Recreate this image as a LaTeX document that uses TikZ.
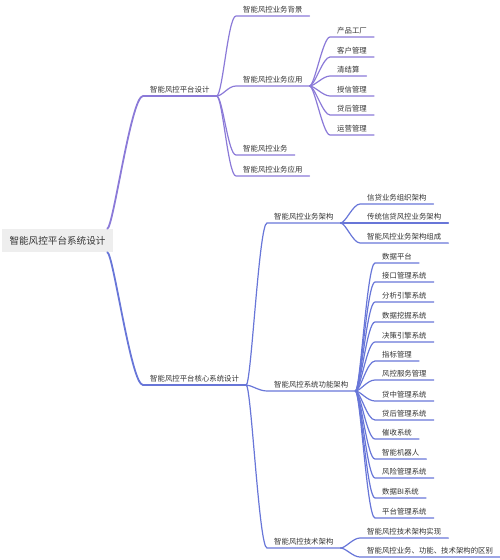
\documentclass[tikz,border=0pt]{standalone}
\usepackage{fontspec}
\setmainfont{Noto Sans CJK SC}
\usepackage{tikz}
\usetikzlibrary{calc}
\definecolor{lilaMM}{RGB}{139,122,216}
\definecolor{azulMM}{RGB}{104,118,216}
\definecolor{textoMM}{RGB}{51,51,51}
\definecolor{grisRaiz}{RGB}{238,238,238}

\begin{document}
\begin{tikzpicture}[
  x=1pt, y=-1pt,
  every node/.style = {font=\fontsize{7.4}{9}\selectfont, text=textoMM},
  hoja/.style  = {anchor=south west, inner xsep=7pt, inner ysep=3pt},
  raiz/.style  = {rectangle, fill=grisRaiz, minimum width=111pt,
                  minimum height=23pt, font=\fontsize{9.6}{11}\selectfont},
  rama/.style  = {line width=1.2pt, line cap=round},
  ramaG/.style = {line width=1.8pt, line cap=round},
]
\useasboundingbox (0,0) rectangle (500,560);
% ── Nodos ────────────────────────────────────────────────────
\node[raiz] (raiz) at (57.5,240.5) {智能风控平台系统设计};
\node[hoja] (P1) at (143,96)  {智能风控平台设计};
\node[hoja] (P2) at (143,385) {智能风控平台核心系统设计};

\node[hoja] (A1) at (236,16)  {智能风控业务背景};
\node[hoja] (A2) at (236,86)  {智能风控业务应用};
\node[hoja] (A3) at (236,155) {智能风控业务};
\node[hoja] (A4) at (236,176) {智能风控业务应用};

\node[hoja] (A21) at (330,37)  {产品工厂};
\node[hoja] (A22) at (330,57)  {客户管理};
\node[hoja] (A23) at (330,76)  {清结算};
\node[hoja] (A24) at (330,96)  {授信管理};
\node[hoja] (A25) at (330,115) {贷后管理};
\node[hoja] (A26) at (330,135) {运营管理};

\node[hoja] (B1) at (267,223) {智能风控业务架构};
\node[hoja] (B2) at (267,391) {智能风控系统功能架构};
\node[hoja] (B3) at (267,548) {智能风控技术架构};

\node[hoja] (B11) at (360,204) {信贷业务组织架构};
\node[hoja] (B12) at (360,223) {传统信贷风控业务架构};
\node[hoja] (B13) at (360,243) {智能风控业务架构组成};

\node[hoja] (B21) at (375,263) {数据平台};
\node[hoja] (B22) at (375,282) {接口管理系统};
\node[hoja] (B23) at (375,302) {分析引擎系统};
\node[hoja] (B24) at (375,322) {数据挖掘系统};
\node[hoja] (B25) at (375,342) {决策引擎系统};
\node[hoja] (B26) at (375,361) {指标管理};
\node[hoja] (B27) at (375,380) {风控服务管理};
\node[hoja] (B28) at (375,401) {贷中管理系统};
\node[hoja] (B29) at (375,420) {贷后管理系统};
\node[hoja] (B210) at (375,439) {催收系统};
\node[hoja] (B211) at (375,459) {智能机器人};
\node[hoja] (B212) at (375,478) {风险管理系统};
\node[hoja] (B213) at (375,498) {数据BI系统};
\node[hoja] (B214) at (375,518) {平台管理系统};

\node[hoja] (B31) at (360,538) {智能风控技术架构实现};
\node[hoja] (B32) at (360,557) {智能风控业务、功能、技术架构的区别};

% ── Ramas desde la raíz ──────────────────────────────────────
\draw[ramaG, lilaMM] ($(raiz.north east)+(-6,0)$) .. controls +(6,0) and +(-12,0) .. (P1.south west) -- (P1.south east);
\draw[ramaG, azulMM] ($(raiz.south east)+(-6,0)$) .. controls +(6,0) and +(-12,0) .. (P2.south west) -- (P2.south east);

% ── Rama superior ────────────────────────────────────────────
\draw[rama, lilaMM] (P1.south east) .. controls +(6,0) and +(-8,0) .. (A1.south west) -- (A1.south east);
\draw[rama, lilaMM] (P1.south east) .. controls +(6,0) and +(-8,0) .. (A2.south west) -- (A2.south east);
\draw[rama, lilaMM] (P1.south east) .. controls +(6,0) and +(-8,0) .. (A3.south west) -- (A3.south east);
\draw[rama, lilaMM] (P1.south east) .. controls +(6,0) and +(-8,0) .. (A4.south west) -- (A4.south east);

\draw[rama, lilaMM] (A2.south east) .. controls +(5,0) and +(-7,0) .. (A21.south west) -- (A21.south east);
\draw[rama, lilaMM] (A2.south east) .. controls +(5,0) and +(-7,0) .. (A22.south west) -- (A22.south east);
\draw[rama, lilaMM] (A2.south east) .. controls +(5,0) and +(-7,0) .. (A23.south west) -- (A23.south east);
\draw[rama, lilaMM] (A2.south east) .. controls +(5,0) and +(-7,0) .. (A24.south west) -- (A24.south east);
\draw[rama, lilaMM] (A2.south east) .. controls +(5,0) and +(-7,0) .. (A25.south west) -- (A25.south east);
\draw[rama, lilaMM] (A2.south east) .. controls +(5,0) and +(-7,0) .. (A26.south west) -- (A26.south east);

% ── Rama inferior ────────────────────────────────────────────
\draw[rama, azulMM] (P2.south east) .. controls +(5,0) and +(-8,0) .. (B1.south west) -- (B1.south east);
\draw[rama, azulMM] (P2.south east) .. controls +(5,0) and +(-8,0) .. (B2.south west) -- (B2.south east);
\draw[rama, azulMM] (P2.south east) .. controls +(5,0) and +(-8,0) .. (B3.south west) -- (B3.south east);

\draw[rama, azulMM] (B1.south east) .. controls +(5,0) and +(-7,0) .. (B11.south west) -- (B11.south east);
\draw[rama, azulMM] (B1.south east) -- (B12.south west) -- (B12.south east);
\draw[rama, azulMM] (B1.south east) .. controls +(5,0) and +(-7,0) .. (B13.south west) -- (B13.south east);

\draw[rama, azulMM] (B2.south east) .. controls +(5,0) and +(-8,0) .. (B21.south west) -- (B21.south east);
\draw[rama, azulMM] (B2.south east) .. controls +(5,0) and +(-8,0) .. (B22.south west) -- (B22.south east);
\draw[rama, azulMM] (B2.south east) .. controls +(5,0) and +(-8,0) .. (B23.south west) -- (B23.south east);
\draw[rama, azulMM] (B2.south east) .. controls +(5,0) and +(-8,0) .. (B24.south west) -- (B24.south east);
\draw[rama, azulMM] (B2.south east) .. controls +(5,0) and +(-8,0) .. (B25.south west) -- (B25.south east);
\draw[rama, azulMM] (B2.south east) .. controls +(5,0) and +(-8,0) .. (B26.south west) -- (B26.south east);
\draw[rama, azulMM] (B2.south east) .. controls +(5,0) and +(-8,0) .. (B27.south west) -- (B27.south east);
\draw[rama, azulMM] (B2.south east) .. controls +(5,0) and +(-8,0) .. (B28.south west) -- (B28.south east);
\draw[rama, azulMM] (B2.south east) .. controls +(5,0) and +(-8,0) .. (B29.south west) -- (B29.south east);
\draw[rama, azulMM] (B2.south east) .. controls +(5,0) and +(-8,0) .. (B210.south west) -- (B210.south east);
\draw[rama, azulMM] (B2.south east) .. controls +(5,0) and +(-8,0) .. (B211.south west) -- (B211.south east);
\draw[rama, azulMM] (B2.south east) .. controls +(5,0) and +(-8,0) .. (B212.south west) -- (B212.south east);
\draw[rama, azulMM] (B2.south east) .. controls +(5,0) and +(-8,0) .. (B213.south west) -- (B213.south east);
\draw[rama, azulMM] (B2.south east) .. controls +(5,0) and +(-8,0) .. (B214.south west) -- (B214.south east);

\draw[rama, azulMM] (B3.south east) .. controls +(5,0) and +(-7,0) .. (B31.south west) -- (B31.south east);
\draw[rama, azulMM] (B3.south east) .. controls +(5,0) and +(-7,0) .. (B32.south west) -- (B32.south east);

\end{tikzpicture}
\end{document}
